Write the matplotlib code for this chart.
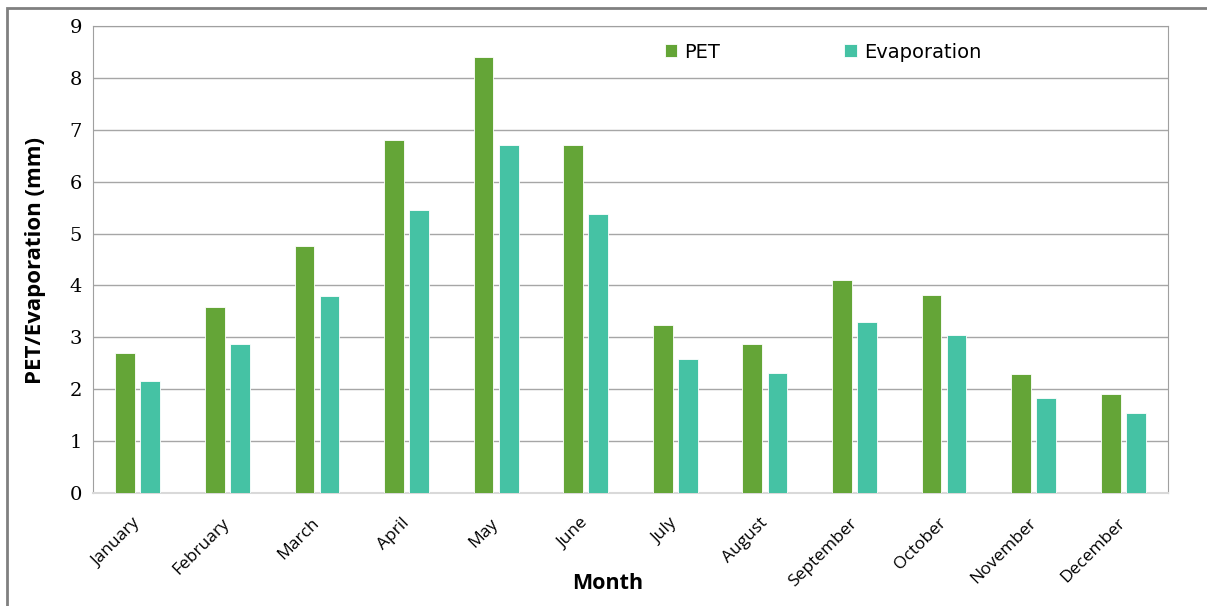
import matplotlib.pyplot as plt
import numpy as np
from matplotlib.patches import Rectangle

months = ['January', 'February', 'March', 'April', 'May', 'June',
          'July', 'August', 'September', 'October', 'November', 'December']
pet = [2.70, 3.58, 4.76, 6.81, 8.40, 6.71, 3.24, 2.87, 4.11, 3.81, 2.30, 1.91]
evaporation = [2.16, 2.87, 3.80, 5.45, 6.71, 5.38, 2.58, 2.31, 3.29, 3.04, 1.83, 1.54]

W, H = 1207, 606
fig = plt.figure(figsize=(W / 100, H / 100), dpi=100)
ax = fig.add_axes([93 / W, 1 - 493 / H, (1168 - 93) / W, (493 - 26) / H])

x = np.arange(len(months))
bw = 0.22
ax.bar(x - 0.14, pet, bw, color='#64A537', edgecolor='white', linewidth=0.6, label='PET', zorder=3)
ax.bar(x + 0.14, evaporation, bw, color='#45C2A4', edgecolor='white', linewidth=0.6, label='Evaporation', zorder=3)

ax.set_xlim(-0.5, len(months) - 0.5)
ax.set_ylim(0, 9)
ax.set_yticks(range(10))
ax.set_yticklabels([str(v) for v in range(10)], family='DejaVu Serif', fontsize=14)
ax.set_xticks(x)
ax.set_xticklabels(months, rotation=45, ha='right', va='center', rotation_mode='anchor',
                   family='Open Sans', fontsize=12.5)
ax.tick_params(axis='both', length=0, pad=8)
ax.tick_params(axis='x', pad=20)
ax.grid(axis='y', color='#A6A6A6', linewidth=1.0, zorder=0)

for side in ['left', 'top', 'right']:
    ax.spines[side].set_color('#A0A0A0')
ax.spines['bottom'].set_color('#D9D9D9')
ax.spines['bottom'].set_linewidth(1.5)

ax.set_xlabel('Month', family='Open Sans', fontsize=15.5, fontweight='bold', labelpad=0)
ax.xaxis.set_label_coords((608 - 93) / (1168 - 93), -(573 - 493) / (493 - 26))
ax.set_ylabel('PET/Evaporation (mm)', family='Open Sans', fontsize=16, fontweight='bold', va='center')
ax.yaxis.set_label_coords(-(93 - 36) / (1168 - 93), (493 - 260) / (493 - 26))

leg = ax.legend(loc='center', bbox_to_anchor=((823 - 93) / (1168 - 93), (493 - 52) / (493 - 26)),
                ncol=2, frameon=False, handlelength=0.65, handleheight=0.65,
                handletextpad=0.35, columnspacing=6.4,
                prop={'family': 'Liberation Sans Narrow', 'size': 14})

fig.patches.append(Rectangle((7 / W, -0.1), 1.2, 1 - 8 / H + 0.1, transform=fig.transFigure,
                             fill=False, edgecolor='#808080', linewidth=2))

fig.savefig('out.png', dpi=100)
